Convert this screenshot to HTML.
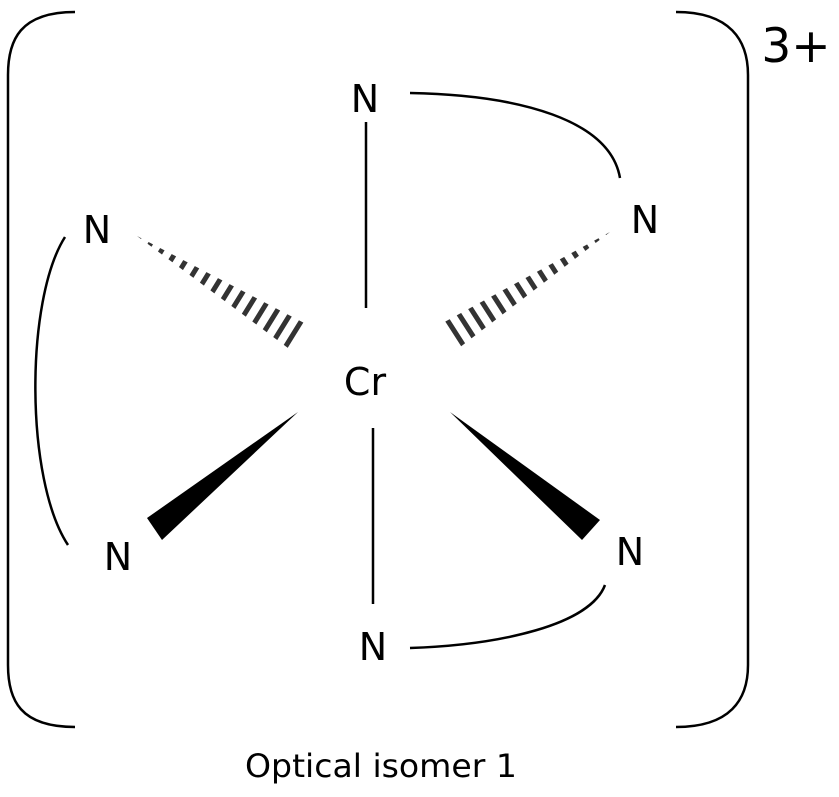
<!DOCTYPE html>
<html><head><style>html,body{margin:0;padding:0;background:#fff}</style></head>
<body>
<svg width="839" height="792" viewBox="0 0 839 792" xmlns="http://www.w3.org/2000/svg">
<defs>
<clipPath id="wl"><polygon points="137,236 292,351 308,325"/></clipPath>
<clipPath id="wr"><polygon points="610,232 455,351 439,325"/></clipPath>
</defs>
<g fill="none" stroke="#000" stroke-width="2.5">
<path d="M75,12 C20,12 8,40 8,75 L8,665 C8,700 20,727 75,727"/>
<path d="M676,12 C730,12 748,40 748,75 L748,665 C748,700 730,727 676,727"/>
<line x1="366" y1="122" x2="366" y2="308"/>
<line x1="373" y1="428" x2="373" y2="604"/>
<path d="M410,93 C520,95 610,120 620,178"/>
<path d="M65,237 C25,300 25,480 68,545"/>
<path d="M410,648 C500,645 590,625 605,585"/>
</g>
<line x1="137" y1="236" x2="302" y2="338" stroke="#333" stroke-width="40" stroke-dasharray="5 8" clip-path="url(#wl)"/>
<line x1="610" y1="232" x2="445" y2="338" stroke="#333" stroke-width="40" stroke-dasharray="5 8" clip-path="url(#wr)"/>
<polygon points="298,412 147,518 162,540" fill="#000"/>
<polygon points="450,412 582,540 600,520" fill="#000"/>
<g font-family="'DejaVu Sans', 'Liberation Sans', sans-serif" font-size="38" text-anchor="middle" fill="#000">
<text x="365" y="112">N</text>
<text x="645" y="233">N</text>
<text x="97" y="243">N</text>
<text x="118" y="570">N</text>
<text x="630" y="565">N</text>
<text x="373" y="660">N</text>
<text x="365" y="395">Cr</text>
<text x="796" y="62" font-size="47">3+</text>
<text x="381" y="777" font-size="32" textLength="272" lengthAdjust="spacingAndGlyphs">Optical isomer 1</text>
</g>
</svg>
</body></html>
